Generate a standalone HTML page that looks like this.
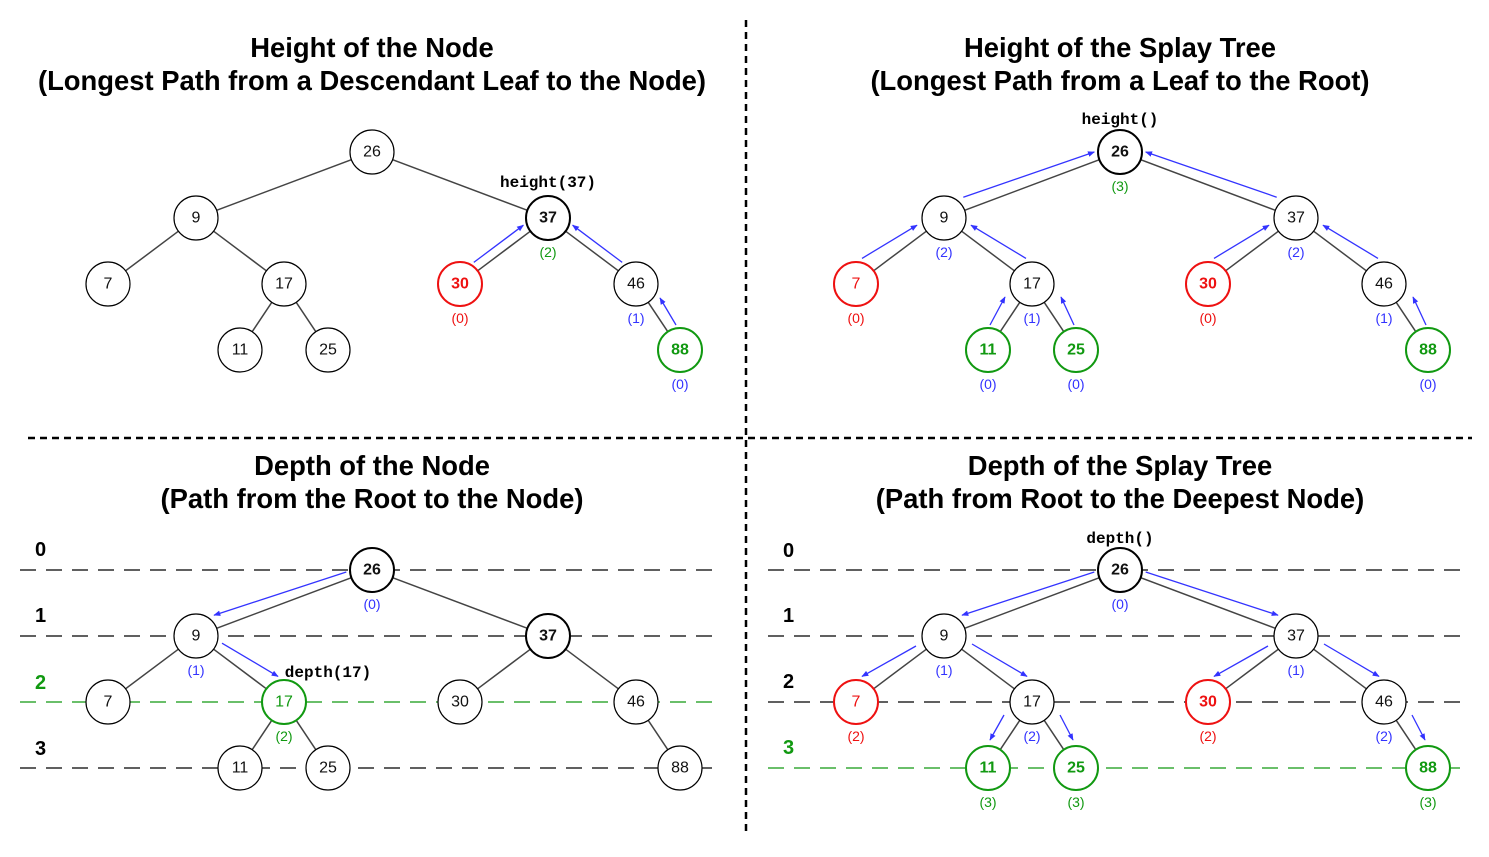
<!DOCTYPE html>
<html><head><meta charset="utf-8"><style>
html,body{margin:0;padding:0;background:#fff;}
svg{display:block;}
.t{font-family:"Liberation Sans",sans-serif;font-weight:bold;font-size:27.4px;text-anchor:middle;fill:#000;}
.n{font-family:"Liberation Sans",sans-serif;font-size:16px;text-anchor:middle;dominant-baseline:central;fill:#111;}
.b{font-weight:bold;}
.l{font-family:"Liberation Sans",sans-serif;font-size:14px;text-anchor:middle;}
.f{font-family:"Liberation Mono","DejaVu Sans Mono",monospace;font-weight:bold;font-size:16px;text-anchor:middle;fill:#000;}
.lv{font-family:"Liberation Sans",sans-serif;font-weight:bold;font-size:20px;fill:#000;}
.c{fill:#fff;stroke:#000;stroke-width:1.2;}
.ck{fill:#fff;stroke:#000;stroke-width:2;}
.cr{fill:#fff;stroke:#ee1111;stroke-width:2;}
.cg{fill:#fff;stroke:#119911;stroke-width:2;}
.a{stroke:#3333ff;stroke-width:1.3;fill:none;marker-end:url(#ah);}
.e line{stroke:#444;stroke-width:1.5;}
.d{stroke:#000;stroke-width:1.3;stroke-dasharray:16 10;}
.dg{stroke:#119911;stroke-width:1.3;stroke-dasharray:16 10;}
</style></head><body>
<svg width="1489" height="857" viewBox="0 0 1489 857" xmlns="http://www.w3.org/2000/svg">
<defs>
<marker id="ah" viewBox="0 0 10 10" refX="9" refY="5" markerWidth="7" markerHeight="7" markerUnits="userSpaceOnUse" orient="auto"><path d="M0,1 L10,5 L0,9 z" fill="#3333ff"/></marker>
<g id="edges" class="e">
<line x1="351.4" y1="159.7" x2="216.6" y2="210.3"/>
<line x1="392.6" y1="159.7" x2="527.4" y2="210.3"/>
<line x1="178.4" y1="231.2" x2="125.6" y2="270.8"/>
<line x1="213.6" y1="231.2" x2="266.4" y2="270.8"/>
<line x1="530.4" y1="231.2" x2="477.6" y2="270.8"/>
<line x1="565.6" y1="231.2" x2="618.4" y2="270.8"/>
<line x1="271.8" y1="302.3" x2="252.2" y2="331.7"/>
<line x1="296.2" y1="302.3" x2="315.8" y2="331.7"/>
<line x1="648.2" y1="302.3" x2="667.8" y2="331.7"/>
</g>
</defs>

<line x1="746" y1="20" x2="746" y2="836" stroke="#000" stroke-width="2.5" stroke-dasharray="7 5"/>
<line x1="28" y1="438" x2="1472" y2="438" stroke="#000" stroke-width="2.5" stroke-dasharray="7 5"/>

<text class="t" x="372" y="57">Height of the Node</text>
<text class="t" x="372" y="90">(Longest Path from a Descendant Leaf to the Node)</text>
<text class="t" x="1120" y="57">Height of the Splay Tree</text>
<text class="t" x="1120" y="90">(Longest Path from a Leaf to the Root)</text>
<text class="t" x="372" y="475">Depth of the Node</text>
<text class="t" x="372" y="508">(Path from the Root to the Node)</text>
<text class="t" x="1120" y="475">Depth of the Splay Tree</text>
<text class="t" x="1120" y="508">(Path from Root to the Deepest Node)</text>

<line class="d" x1="20" y1="570" x2="730" y2="570"/>
<line class="d" x1="20" y1="636" x2="730" y2="636"/>
<line class="dg" x1="20" y1="702" x2="730" y2="702"/>
<line class="d" x1="20" y1="768" x2="730" y2="768"/>
<line class="d" x1="768" y1="570" x2="1478" y2="570"/>
<line class="d" x1="768" y1="636" x2="1478" y2="636"/>
<line class="d" x1="768" y1="702" x2="1478" y2="702"/>
<line class="dg" x1="768" y1="768" x2="1478" y2="768"/>
<rect x="722" y="560" width="22" height="220" fill="#fff"/>
<rect x="1470" y="560" width="19" height="220" fill="#fff"/>
<text class="lv" x="35" y="556">0</text><text class="lv" x="35" y="622">1</text>
<text class="lv" x="35" y="689" style="fill:#119911">2</text><text class="lv" x="35" y="755">3</text>
<text class="lv" x="783" y="557">0</text><text class="lv" x="783" y="622">1</text>
<text class="lv" x="783" y="688">2</text><text class="lv" x="783" y="754" style="fill:#119911">3</text>

<use href="#edges"/>
<use href="#edges" x="748"/>
<use href="#edges" y="418"/>
<use href="#edges" x="748" y="418"/>

<line class="a" x1="473.8" y1="262.4" x2="523.4" y2="225.2"/>
<line class="a" x1="622.2" y1="262.4" x2="572.6" y2="225.2"/>
<line class="a" x1="676" y1="325" x2="660" y2="298"/>
<line class="a" x1="963.3" y1="197.2" x2="1094.3" y2="152"/>
<line class="a" x1="1276.7" y1="197.2" x2="1145.7" y2="152"/>
<line class="a" x1="862" y1="258.4" x2="917" y2="225.2"/>
<line class="a" x1="1026" y1="258.4" x2="971" y2="225.2"/>
<line class="a" x1="1214" y1="258.4" x2="1269" y2="225.2"/>
<line class="a" x1="1378" y1="258.4" x2="1323" y2="225.2"/>
<line class="a" x1="990" y1="325" x2="1005" y2="297"/>
<line class="a" x1="1074" y1="325" x2="1061" y2="297"/>
<line class="a" x1="1426" y1="325" x2="1413" y2="297"/>
<line class="a" x1="346.3" y1="572" x2="214" y2="615.2"/>
<line class="a" x1="222" y1="643.2" x2="278" y2="676.4"/>
<line class="a" x1="1094.3" y1="572" x2="962" y2="615.2"/>
<line class="a" x1="1145.7" y1="572" x2="1278" y2="615.2"/>
<line class="a" x1="916" y1="646" x2="862" y2="676.4"/>
<line class="a" x1="972" y1="644" x2="1027" y2="676.4"/>
<line class="a" x1="1268" y1="646" x2="1214" y2="676.4"/>
<line class="a" x1="1324" y1="644" x2="1379" y2="676.4"/>
<line class="a" x1="1004" y1="715" x2="990" y2="740"/>
<line class="a" x1="1060" y1="715" x2="1073" y2="740"/>
<line class="a" x1="1412" y1="715" x2="1425" y2="740"/>

<circle class="c" cx="372" cy="152" r="22"/><text class="n" x="372" y="152">26</text>
<circle class="c" cx="196" cy="218" r="22"/><text class="n" x="196" y="218">9</text>
<circle class="ck" cx="548" cy="218" r="22"/><text class="n b" x="548" y="218">37</text>
<circle class="c" cx="108" cy="284" r="22"/><text class="n" x="108" y="284">7</text>
<circle class="c" cx="284" cy="284" r="22"/><text class="n" x="284" y="284">17</text>
<circle class="cr" cx="460" cy="284" r="22"/><text class="n b" x="460" y="284" style="fill:#ee1111">30</text>
<circle class="c" cx="636" cy="284" r="22"/><text class="n" x="636" y="284">46</text>
<circle class="c" cx="240" cy="350" r="22"/><text class="n" x="240" y="350">11</text>
<circle class="c" cx="328" cy="350" r="22"/><text class="n" x="328" y="350">25</text>
<circle class="cg" cx="680" cy="350" r="22"/><text class="n b" x="680" y="350" style="fill:#119911">88</text>
<text class="f" x="548" y="187">height(37)</text>
<text class="l" x="548" y="257" fill="#119911">(2)</text>
<text class="l" x="460" y="323" fill="#ee1111">(0)</text>
<text class="l" x="636" y="323" fill="#3333ff">(1)</text>
<text class="l" x="680" y="389" fill="#3333ff">(0)</text>

<circle class="ck" cx="1120" cy="152" r="22"/><text class="n b" x="1120" y="152">26</text>
<circle class="c" cx="944" cy="218" r="22"/><text class="n" x="944" y="218">9</text>
<circle class="c" cx="1296" cy="218" r="22"/><text class="n" x="1296" y="218">37</text>
<circle class="cr" cx="856" cy="284" r="22"/><text class="n" x="856" y="284" style="fill:#ee1111">7</text>
<circle class="c" cx="1032" cy="284" r="22"/><text class="n" x="1032" y="284">17</text>
<circle class="cr" cx="1208" cy="284" r="22"/><text class="n b" x="1208" y="284" style="fill:#ee1111">30</text>
<circle class="c" cx="1384" cy="284" r="22"/><text class="n" x="1384" y="284">46</text>
<circle class="cg" cx="988" cy="350" r="22"/><text class="n b" x="988" y="350" style="fill:#119911">11</text>
<circle class="cg" cx="1076" cy="350" r="22"/><text class="n b" x="1076" y="350" style="fill:#119911">25</text>
<circle class="cg" cx="1428" cy="350" r="22"/><text class="n b" x="1428" y="350" style="fill:#119911">88</text>
<text class="f" x="1120" y="124">height()</text>
<text class="l" x="1120" y="191" fill="#119911">(3)</text>
<text class="l" x="944" y="257" fill="#3333ff">(2)</text>
<text class="l" x="1296" y="257" fill="#3333ff">(2)</text>
<text class="l" x="856" y="323" fill="#ee1111">(0)</text>
<text class="l" x="1032" y="323" fill="#3333ff">(1)</text>
<text class="l" x="1208" y="323" fill="#ee1111">(0)</text>
<text class="l" x="1384" y="323" fill="#3333ff">(1)</text>
<text class="l" x="988" y="389" fill="#3333ff">(0)</text>
<text class="l" x="1076" y="389" fill="#3333ff">(0)</text>
<text class="l" x="1428" y="389" fill="#3333ff">(0)</text>

<circle class="ck" cx="372" cy="570" r="22"/><text class="n b" x="372" y="570">26</text>
<circle class="c" cx="196" cy="636" r="22"/><text class="n" x="196" y="636">9</text>
<circle class="ck" cx="548" cy="636" r="22"/><text class="n b" x="548" y="636">37</text>
<circle class="c" cx="108" cy="702" r="22"/><text class="n" x="108" y="702">7</text>
<circle class="cg" cx="284" cy="702" r="22"/><text class="n" x="284" y="702" style="fill:#119911">17</text>
<circle class="c" cx="460" cy="702" r="22"/><text class="n" x="460" y="702">30</text>
<circle class="c" cx="636" cy="702" r="22"/><text class="n" x="636" y="702">46</text>
<circle class="c" cx="240" cy="768" r="22"/><text class="n" x="240" y="768">11</text>
<circle class="c" cx="328" cy="768" r="22"/><text class="n" x="328" y="768">25</text>
<circle class="c" cx="680" cy="768" r="22"/><text class="n" x="680" y="768">88</text>
<text class="f" x="328" y="677">depth(17)</text>
<text class="l" x="372" y="609" fill="#3333ff">(0)</text>
<text class="l" x="196" y="675" fill="#3333ff">(1)</text>
<text class="l" x="284" y="741" fill="#119911">(2)</text>

<circle class="ck" cx="1120" cy="570" r="22"/><text class="n b" x="1120" y="570">26</text>
<circle class="c" cx="944" cy="636" r="22"/><text class="n" x="944" y="636">9</text>
<circle class="c" cx="1296" cy="636" r="22"/><text class="n" x="1296" y="636">37</text>
<circle class="cr" cx="856" cy="702" r="22"/><text class="n" x="856" y="702" style="fill:#ee1111">7</text>
<circle class="c" cx="1032" cy="702" r="22"/><text class="n" x="1032" y="702">17</text>
<circle class="cr" cx="1208" cy="702" r="22"/><text class="n b" x="1208" y="702" style="fill:#ee1111">30</text>
<circle class="c" cx="1384" cy="702" r="22"/><text class="n" x="1384" y="702">46</text>
<circle class="cg" cx="988" cy="768" r="22"/><text class="n b" x="988" y="768" style="fill:#119911">11</text>
<circle class="cg" cx="1076" cy="768" r="22"/><text class="n b" x="1076" y="768" style="fill:#119911">25</text>
<circle class="cg" cx="1428" cy="768" r="22"/><text class="n b" x="1428" y="768" style="fill:#119911">88</text>
<text class="f" x="1120" y="543">depth()</text>
<text class="l" x="1120" y="609" fill="#3333ff">(0)</text>
<text class="l" x="944" y="675" fill="#3333ff">(1)</text>
<text class="l" x="1296" y="675" fill="#3333ff">(1)</text>
<text class="l" x="856" y="741" fill="#ee1111">(2)</text>
<text class="l" x="1032" y="741" fill="#3333ff">(2)</text>
<text class="l" x="1208" y="741" fill="#ee1111">(2)</text>
<text class="l" x="1384" y="741" fill="#3333ff">(2)</text>
<text class="l" x="988" y="807" fill="#119911">(3)</text>
<text class="l" x="1076" y="807" fill="#119911">(3)</text>
<text class="l" x="1428" y="807" fill="#119911">(3)</text>
</svg>
</body></html>
